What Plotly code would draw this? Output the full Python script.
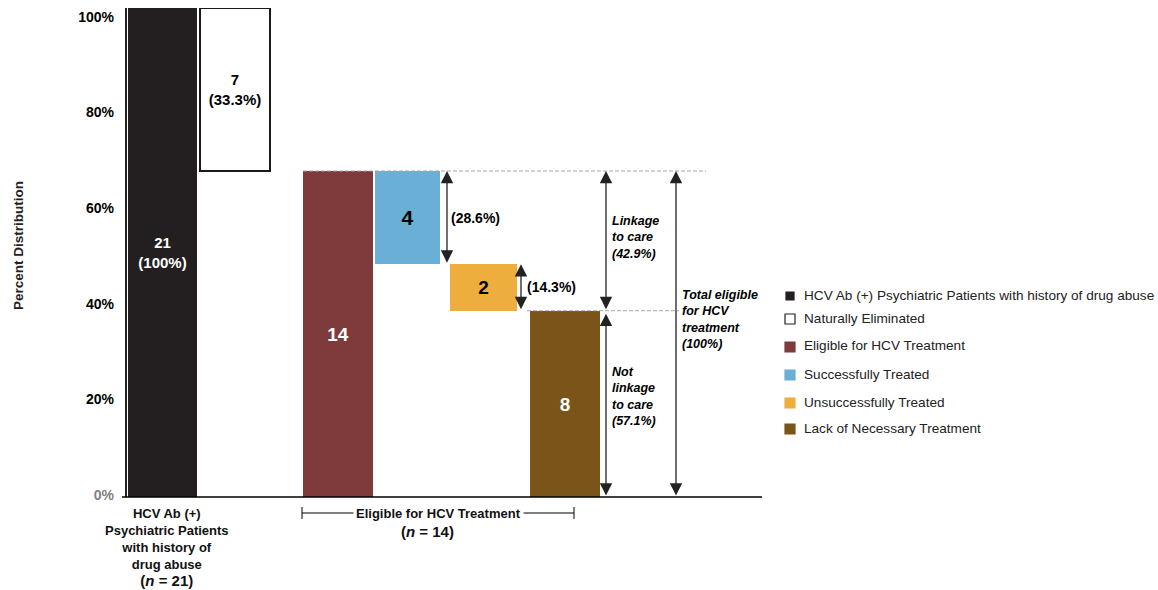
import plotly.graph_objects as go

# ---- data ----------------------------------------------------------------
stage_names = [
    "HCV Ab (+) Psychiatric Patients with history of drug abuse",
    "Naturally Eliminated",
    "Eligible for HCV Treatment",
    "Successfully Treated",
    "Unsuccessfully Treated",
    "Lack of Necessary Treatment",
]
stage_counts = [21, 7, 14, 4, 2, 8]
stage_colors = ["#231f20", "#ffffff", "#7f3b3c", "#6aafd6", "#edae3e", "#7a5418"]

y_tick_values = [0, 20, 40, 60, 80, 100]
y_tick_labels = ["0%", "20%", "40%", "60%", "80%", "100%"]

total = stage_counts[0]
eligible = stage_counts[2]


def fmt(p):
    s = f"{p:.1f}"
    return s[:-2] if s.endswith(".0") else s


pct_all = [c / total * 100 for c in stage_counts]
pct_elig = {k: stage_counts[k] / eligible * 100 for k in (3, 4, 5)}
linked_pct = (stage_counts[3] + stage_counts[4]) / eligible * 100

# waterfall bases
bases = [
    0,
    100 - pct_all[1],
    0,
    pct_all[2] - pct_all[3],
    pct_all[2] - pct_all[3] - pct_all[4],
    0,
]

# ---- geometry (x axis is laid out in pixel-like units) ---------------------
L, R, T, B = 127, 762, 8, 497
W, H = R - L, B - T


def X(px):
    return px - L


def Y(py):
    return (B - py) / H * 100


def PX(px):
    return (px - L) / W


def PY(py):
    return (B - py) / H


bar_x = [X(162.5), X(234.5), X(338), X(407.5), X(483.5), X(565)]
bar_w = [69, 70, 70, 65, 67, 70]

FONT = "Arial, 'Liberation Sans', sans-serif"

bar_text = [
    f"<b>{stage_counts[0]}<br>({fmt(pct_all[0])}%)</b>",
    f"<b>{stage_counts[1]}<br>({fmt(pct_all[1])}%)</b>",
    f"<b>{stage_counts[2]}</b>",
    f"<b>{stage_counts[3]}</b>",
    f"<b>{stage_counts[4]}</b>",
    f"<b>{stage_counts[5]}</b>",
]
text_colors = ["white", "black", "white", "black", "black", "white"]
text_sizes = [15, 15, 19, 21, 19, 19]

fig = go.Figure()
fig.add_trace(
    go.Bar(
        x=bar_x,
        y=pct_all,
        base=bases,
        width=bar_w,
        marker=dict(
            color=stage_colors,
            line=dict(color=["#231f20", "#1a1a1a", "#7f3b3c", "#6aafd6", "#edae3e", "#7a5418"],
                      width=[0, 2, 0, 0, 0, 0]),
        ),
        text=bar_text,
        textposition="inside",
        insidetextanchor="middle",
        textangle=0,
        textfont=dict(color=text_colors, size=text_sizes, family=FONT),
        cliponaxis=False,
        showlegend=False,
        hoverinfo="skip",
    )
)
# empty trace carrying the labelled percentage scale
fig.add_trace(go.Scatter(x=[], y=[], yaxis="y2", showlegend=False, hoverinfo="skip"))

shapes = []
annotations = []

# baseline of the x axis
shapes.append(dict(type="line", xref="paper", yref="paper", x0=PX(122), x1=PX(762), y0=0, y1=0,
                   line=dict(color="black", width=1.5)))

# dashed reference lines
top_elig = pct_all[2]
linked_floor = bases[4]
dash = dict(color="#a6a6a6", width=1, dash="4px,2px")
shapes.append(dict(type="line", xref="x", yref="y", x0=X(303), x1=X(706), y0=top_elig, y1=top_elig,
                   line=dash))
shapes.append(dict(type="line", xref="x", yref="y", x0=X(527), x1=X(679), y0=linked_floor, y1=linked_floor,
                   line=dash))


def double_arrow(xpx, y0, y1):
    annotations.append(dict(
        x=X(xpx), y=y0, ax=X(xpx), ay=y1, xref="x", yref="y", axref="x", ayref="y",
        text="", showarrow=True, arrowhead=2, startarrowhead=2, arrowside="end+start",
        arrowsize=1.9, startarrowsize=1.9, arrowwidth=1.3, arrowcolor="#222222",
        standoff=0, startstandoff=0,
    ))


double_arrow(447, top_elig, bases[3])
double_arrow(521, bases[3], bases[4])
double_arrow(606, top_elig, linked_floor)
double_arrow(606, linked_floor - 0.6, 0)
double_arrow(676, top_elig, 0)

note_font = dict(family=FONT, size=14, color="black")
annotations.append(dict(x=X(449), y=(top_elig + bases[3]) / 2, xref="x", yref="y", xanchor="left",
                        showarrow=False, text=f"<b>({fmt(pct_elig[3])}%)</b>", font=note_font))
annotations.append(dict(x=X(525), y=(bases[3] + bases[4]) / 2, xref="x", yref="y", xanchor="left",
                        showarrow=False, text=f"<b>({fmt(pct_elig[4])}%)</b>", font=note_font))

ital = dict(family=FONT, size=12.5, color="black")
annotations.append(dict(x=X(610), y=Y(237), xref="x", yref="y", xanchor="left", align="left",
                        showarrow=False, font=ital,
                        text=f"<b><i>Linkage<br>to care<br>({fmt(linked_pct)}%)</i></b>"))
annotations.append(dict(x=X(610), y=Y(396), xref="x", yref="y", xanchor="left", align="left",
                        showarrow=False, font=ital,
                        text=f"<b><i>Not<br>linkage<br>to care<br>({fmt(pct_elig[5])}%)</i></b>"))
annotations.append(dict(x=X(680), y=Y(319), xref="x", yref="y", xanchor="left", align="left",
                        showarrow=False, font=ital,
                        text="<b><i>Total eligible<br>for HCV<br>treatment<br>(100%)</i></b>"))

# category captions below the axis
cap_font = dict(family=FONT, size=13, color="#111111")
n_big = "<span style='font-size:15px'>(<i>n</i> = {})</span>"
annotations.append(dict(x=PX(167), y=PY(504), xref="paper", yref="paper", xanchor="center", yanchor="top",
                        showarrow=False, font=cap_font, align="center",
                        text="<b>HCV Ab (+)<br>Psychiatric Patients<br>with history of<br>drug abuse<br>"
                             + n_big.format(total) + "</b>"))
shapes.append(dict(type="line", xref="paper", yref="paper", x0=PX(302), x1=PX(574),
                   y0=PY(513), y1=PY(513), line=dict(color="black", width=1)))
for xe in (302, 574):
    shapes.append(dict(type="line", xref="paper", yref="paper", x0=PX(xe), x1=PX(xe),
                       y0=PY(507), y1=PY(519), line=dict(color="black", width=1)))
annotations.append(dict(x=PX(438), y=PY(513), xref="paper", yref="paper", xanchor="center",
                        yanchor="middle", showarrow=False, font=cap_font, bgcolor="white", borderpad=2,
                        text="<b>Eligible for HCV Treatment</b>"))
annotations.append(dict(x=PX(427), y=PY(531), xref="paper", yref="paper", xanchor="center",
                        yanchor="middle", showarrow=False, font=dict(family=FONT, size=15, color="#111111"),
                        text=f"<b>(<i>n</i> = {eligible})</b>"))

# y axis title
annotations.append(dict(x=PX(18), y=PY(245), xref="paper", yref="paper", textangle=-90,
                        xanchor="center", yanchor="middle",
                        showarrow=False, font=dict(family=FONT, size=13.5, color="#222222"),
                        text="<b>Percent Distribution</b>"))

# legend drawn as swatches + labels
legend_rows = [295, 318, 346, 374, 402, 428]
for i, (name, col) in enumerate(zip(stage_names, stage_colors)):
    cy = legend_rows[i]
    half = 4 if i == 0 else 5
    shapes.append(dict(type="rect", xref="paper", yref="paper",
                       x0=PX(790 - half), x1=PX(790 + half), y0=PY(cy + half + 1), y1=PY(cy - half + 1),
                       fillcolor=col, line=dict(color="#222222" if i == 1 else col, width=1.2)))
    annotations.append(dict(x=PX(802), y=PY(cy), xref="paper", yref="paper", xanchor="left",
                            yanchor="middle", showarrow=False, text=name,
                            font=dict(family=FONT, size=13.6, color="#222222")))

tick_text = [f"<span style='color:#7f7f7f'>{t}</span>" if v == 0 else t
             for v, t in zip(y_tick_values, y_tick_labels)]

fig.update_layout(
    width=1158,
    height=590,
    margin=dict(l=L, r=1158 - R, t=T, b=590 - B, autoexpand=False),
    paper_bgcolor="white",
    plot_bgcolor="white",
    font=dict(family=FONT),
    shapes=shapes,
    annotations=annotations,
    bargap=0,
    xaxis=dict(range=[0, W], visible=False, fixedrange=True),
    yaxis=dict(
        range=[0, 100],
        showticklabels=False,
        ticks="",
        showgrid=False,
        zeroline=False,
        showline=True,
        linecolor="#222222",
        linewidth=1.5,
        automargin=False,
        fixedrange=True,
    ),
    # labelled scale, set slightly inside the bar scale
    yaxis2=dict(
        overlaying="y",
        side="left",
        range=[-0.42, 101.88],
        tickvals=y_tick_values,
        ticktext=tick_text,
        tickfont=dict(family=FONT, size=14, color="black", weight="bold"),
        ticks="",
        ticklabelstandoff=12,
        ticklabeloverflow="allow",
        showgrid=False,
        zeroline=False,
        showline=False,
        automargin=False,
        fixedrange=True,
    ),
)

fig.write_html("out.html")
